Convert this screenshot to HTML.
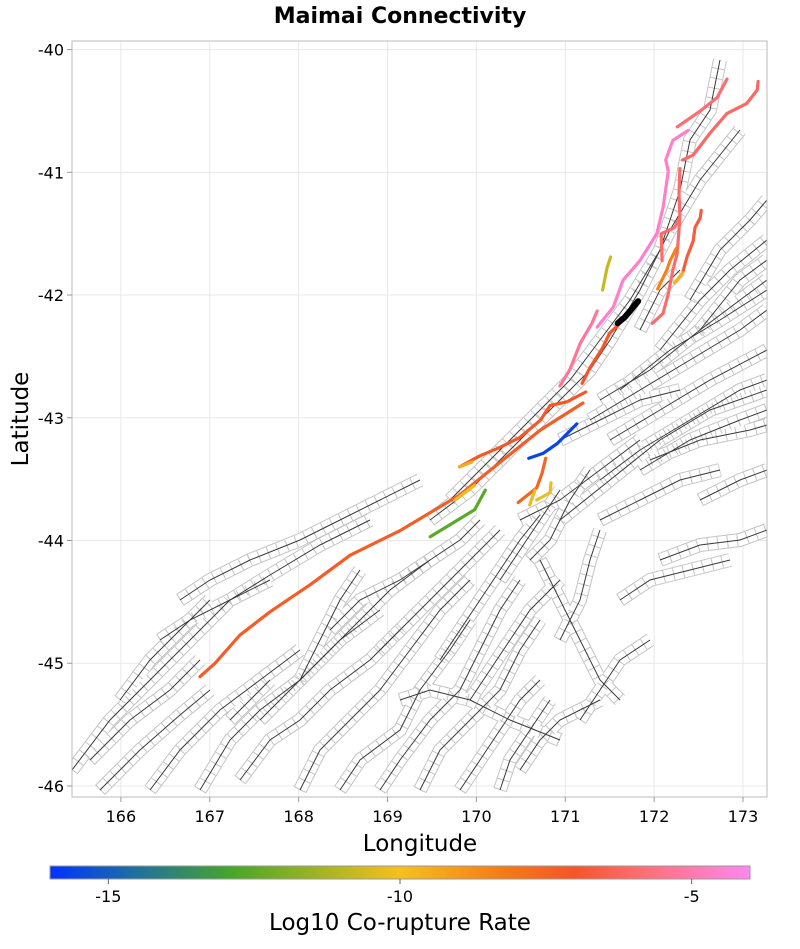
<!DOCTYPE html>
<html><head><meta charset="utf-8"><style>
body{margin:0;background:#fff;font-family:"DejaVu Sans","Liberation Sans",sans-serif}
text{font-family:"DejaVu Sans","Liberation Sans",sans-serif}
</style></head><body>
<svg id="chart" width="800" height="945" xmlns="http://www.w3.org/2000/svg">
<defs>
<linearGradient id="cbar" x1="0" x2="1" y1="0" y2="0">
<stop offset="0" stop-color="#0033ff"/><stop offset="0.12" stop-color="#1f6fa0"/>
<stop offset="0.26" stop-color="#48a62a"/><stop offset="0.5" stop-color="#f6c020"/>
<stop offset="0.65" stop-color="#f47a18"/><stop offset="0.75" stop-color="#f4552a"/>
<stop offset="0.85" stop-color="#ff6f78"/><stop offset="1" stop-color="#ff88f0"/>
</linearGradient>
<clipPath id="plotclip"><rect x="72" y="41" width="695" height="756"/></clipPath>
</defs>
<text x="400" y="23" text-anchor="middle" font-size="22" font-weight="bold">Maimai Connectivity</text>
<g id="grid"></g>
<g id="bgo" clip-path="url(#plotclip)"></g>
<g id="bgw" clip-path="url(#plotclip)"></g>
<g id="bgd" clip-path="url(#plotclip)"></g>
<g id="bg" clip-path="url(#plotclip)"></g>
<g id="faults" clip-path="url(#plotclip)"></g>
<rect x="72" y="41" width="695" height="756" fill="none" stroke="#bbb"/>
<g id="axes"></g>
<text x="420" y="851" text-anchor="middle" font-size="23">Longitude</text>
<text x="28" y="419" text-anchor="middle" font-size="23" transform="rotate(-90 28 419)">Latitude</text>
<rect x="50" y="866" width="700" height="13" fill="url(#cbar)" stroke="#999"/>
<g id="cbticks"></g>
<text x="400" y="930" text-anchor="middle" font-size="23">Log10 Co-rupture Rate</text>
</svg>
<script>
const xTicks=[166,167,168,169,170,171,172,173];
const yTicks=[-40,-41,-42,-43,-44,-45,-46];
const cbTicks=[-15,-10,-5];
const faultNames=["alpine","alpine-upper","salmon-ne1","red-ne2","salmon-pink","pink","red-inner","salmon-mid","salmon-branch","red-right","orange","yellow-orange","yellow-north","black-source","blue","orange-lower","yellow-a","yellow-b","green","yellow-left","yellow-orange-left"];
const faultRates=[-7.3,-7.1,-5.9,-6.1,-5.3,-4.6,-7.0,-6.0,-6.0,-6.7,-8.4,-9.6,-10.8,null,-15.6,-7.5,-10.2,-10.2,-12.6,-10.2,-9.4];
const faultLons=[
[166.89,167.06,167.34,167.68,168.13,168.58,169.14,169.81,170.27,170.72,171.20],
[169.81,170.04,170.27,170.49,170.72,170.83,171.02,171.23],
[172.26,172.52,172.71,172.82],
[172.32,172.44,172.63,172.82,173.04,173.16,173.17],
[170.94,171.05,171.17,171.30,171.36],
[171.36,171.54,171.65,171.84,172.03,172.10,172.16,172.13,172.21,172.38],
[171.19,171.28,171.42,171.50,171.59],
[171.98,172.10,172.16,172.21,172.26,172.29,172.28,172.29],
[172.09,172.08,172.23,172.29],
[172.32,172.37,172.44,172.46,172.52,172.53],
[172.04,172.14,172.18,172.25],
[172.23,172.32],
[171.42,171.47,171.51],
[171.59,171.67,171.73,171.82],
[170.59,170.75,170.91,171.13],
[170.47,170.68,170.74,170.78],
[170.60,170.66],
[170.68,170.83,170.84],
[169.48,169.98,170.10],
[169.76,169.98],
[169.81,169.95]];
const faultLats=[
[-45.11,-45.00,-44.77,-44.58,-44.36,-44.12,-43.92,-43.63,-43.36,-43.10,-42.88],
[-43.40,-43.31,-43.24,-43.16,-43.02,-42.90,-42.87,-42.79],
[-40.63,-40.50,-40.39,-40.24],
[-40.90,-40.86,-40.68,-40.52,-40.44,-40.33,-40.26],
[-42.74,-42.61,-42.39,-42.23,-42.13],
[-42.26,-42.10,-41.88,-41.72,-41.50,-41.29,-40.99,-40.90,-40.74,-40.66],
[-42.72,-42.59,-42.43,-42.31,-42.25],
[-42.23,-42.15,-41.99,-41.80,-41.66,-41.37,-41.17,-40.97],
[-41.72,-41.50,-41.45,-41.37],
[-41.82,-41.69,-41.56,-41.45,-41.37,-41.31],
[-41.95,-41.80,-41.72,-41.62],
[-41.90,-41.82],
[-41.96,-41.78,-41.69],
[-42.23,-42.18,-42.13,-42.05],
[-43.33,-43.29,-43.21,-43.05],
[-43.69,-43.57,-43.45,-43.33],
[-43.71,-43.59],
[-43.67,-43.61,-43.53],
[-43.97,-43.75,-43.59],
[-43.67,-43.55],
[-43.40,-43.36]];

const NS="http://www.w3.org/2000/svg";
const X0=72,X1=767,Y0=41,Y1=797,LON0=165.45,LON1=173.27,LAT0=-39.93,LAT1=-46.09;
function xs(l){return X0+(l-LON0)/(LON1-LON0)*(X1-X0);}
function ys(l){return Y0+(l-LAT0)/(LAT1-LAT0)*(Y1-Y0);}
function cbx(v){return 50+(v+16)/12*700;}
const stops=[[-16,[0,51,255]],[-14.6,[31,111,160]],[-12.9,[72,166,42]],[-10,[246,192,32]],[-8.2,[244,122,24]],[-7,[244,85,42]],[-5.8,[255,111,120]],[-4,[255,136,240]]];
function col(v){if(v<=stops[0][0])return "rgb("+stops[0][1]+")";for(let i=1;i<stops.length;i++){if(v<=stops[i][0]){const a=stops[i-1],b=stops[i],t=(v-a[0])/(b[0]-a[0]);return "rgb("+a[1].map((c,k)=>Math.round(c+(b[1][k]-c)*t)).join(",")+")";}}return "rgb("+stops[stops.length-1][1]+")";}
function mk(tag,attrs,parent){const e=document.createElementNS(NS,tag);for(const k in attrs)e.setAttribute(k,attrs[k]);parent.appendChild(e);return e;}
const grid=document.getElementById('grid'),axes=document.getElementById('axes');
xTicks.forEach(t=>{const x=xs(t);
const g=mk('line',{x1:x,x2:x,y1:Y0,y2:Y1,stroke:'#e8e8e8'},grid);


const tk=mk('line',{x1:x,x2:x,y1:Y1,y2:Y1+5,stroke:'#999'},axes);


const tx=mk('text',{x:x,y:Y1+25,'text-anchor':'middle','font-size':16},axes);tx.textContent=t;

});
yTicks.forEach(t=>{const y=ys(t);
const g=mk('line',{x1:X0,x2:X1,y1:y,y2:y,stroke:'#e8e8e8'},grid);


const tk=mk('line',{x1:X0-5,x2:X0,y1:y,y2:y,stroke:'#999'},axes);


const tx=mk('text',{x:X0-8,y:y+6,'text-anchor':'end','font-size':16},axes);tx.textContent=t;

});
const cbg=document.getElementById('cbticks');
cbTicks.forEach(t=>{const x=cbx(t);
const tk=mk('line',{x1:x,x2:x,y1:879,y2:884,stroke:'#666'},cbg);


const tx=mk('text',{x:x,y:902,'text-anchor':'middle','font-size':16},cbg);tx.textContent=t;

});

// decorative background fault network (pixel paths, not data)
const bgPaths=[
"M72,770 L110,720 L150,680 L190,640 L230,600 L270,575 L320,545 L370,520",
"M90,760 L130,720 L170,690 L200,660",
"M100,790 L140,750 L180,715 L210,690",
"M150,790 L180,750 L220,710 L260,680 L300,650",
"M200,790 L230,740 L260,710 L300,680 L340,640 L380,610",
"M240,780 L270,740 L300,720 L330,690 L370,660 L400,630",
"M260,720 L290,690 L320,660 L360,620 L390,590 L430,560",
"M300,790 L320,750 L350,720 L380,690 L410,650 L440,610 L470,580",
"M340,790 L360,760 L400,730 L420,690 L450,650 L470,620",
"M380,790 L400,760 L430,720 L460,690 L480,650 L500,610 L520,580",
"M420,790 L440,750 L470,720 L500,690 L520,650 L540,620",
"M460,790 L480,760 L500,730 L520,700 L540,680",
"M500,790 L510,760 L530,730 L550,700",
"M400,700 L430,690 L470,700 L510,720 L560,740",
"M330,630 L360,600 L400,580 L430,560 L460,540 L480,520",
"M380,650 L410,620 L440,590 L470,560 L500,530",
"M440,660 L460,630 L480,600 L500,570 L520,540 L540,515",
"M470,700 L490,670 L510,640 L530,610 L560,580",
"M560,640 L580,600 L590,560 L600,530",
"M530,560 L550,540 L570,500 L590,470",
"M500,580 L520,550 L540,520 L560,490",
"M600,480 L640,450 L690,420 L740,390 L767,380",
"M560,520 L610,480 L660,440 L710,410 L767,390",
"M590,420 L640,390 L690,360 L740,330 L767,310",
"M610,440 L660,410 L710,380 L767,350",
"M640,470 L690,440 L740,420 L767,410",
"M620,390 L670,350 L720,320 L767,290",
"M650,460 L700,440 L750,430 L767,425",
"M600,400 L650,370 L700,330 L740,300 L767,280",
"M660,350 L700,300 L730,270 L767,240",
"M690,300 L720,250 L750,220 L767,200",
"M700,330 L740,280 L767,260",
"M640,330 L660,290 L680,270",
"M520,520 L560,500 L600,470 L640,440",
"M660,560 L700,545 L740,540 L767,530",
"M700,500 L740,480 L767,470",
"M450,500 L480,470 L510,440 L540,410 L570,380 L600,340 L630,300 L660,250 L680,190 L690,140 L710,110 L720,60",
"M430,520 L470,490 L500,460 L530,430 L560,400 L590,370 L610,340 L640,290 L670,230 L700,180 L740,130",
"M120,700 L150,660 L180,630 L210,600",
"M180,600 L210,580 L250,560 L300,540 L340,520 L380,500 L420,480",
"M160,640 L190,620 L230,600 L270,580",
"M300,680 L320,640 L340,600 L360,570",
"M230,720 L250,700 L270,680",
"M560,440 L600,420 L640,400 L680,390",
"M600,520 L640,500 L680,480 L720,470",
"M540,560 L560,600 L580,640 L600,680 L620,700",
"M620,600 L650,580 L690,570 L730,560",
"M580,720 L600,690 L620,660 L650,640",
"M520,770 L540,740 L560,720 L600,700"
];
const bgo=document.getElementById('bgo'),bgw=document.getElementById('bgw'),bgd=document.getElementById('bgd'),bg=document.getElementById('bg');
bgPaths.forEach((d,i)=>{
const o=mk('path',{d:d,fill:'none',stroke:'#c4c4c4','stroke-width':14},bgo);


const w=mk('path',{d:d,fill:'none',stroke:'#fff','stroke-width':12},bgw);


const h=mk('path',{d:d,fill:'none',stroke:'#c4c4c4','stroke-width':12,'stroke-dasharray':'1 9'},bgd);


const p=mk('path',{d:d,fill:'none',stroke:'#3a3a3a','stroke-width':1},bg);

});

const fg=document.getElementById('faults');
faultNames.forEach((n,i)=>{
const pts=faultLons[i].map((l,k)=>xs(l).toFixed(1)+","+ys(faultLats[i][k]).toFixed(1)).join(" ");
const c=faultRates[i]===null?'#000':col(faultRates[i]);
const p=mk('polyline',{points:pts,fill:'none',stroke:c,'stroke-width':faultRates[i]===null?6:3.2,'stroke-linejoin':'round','stroke-linecap':'round'},fg);

});
</script>
</body></html>
